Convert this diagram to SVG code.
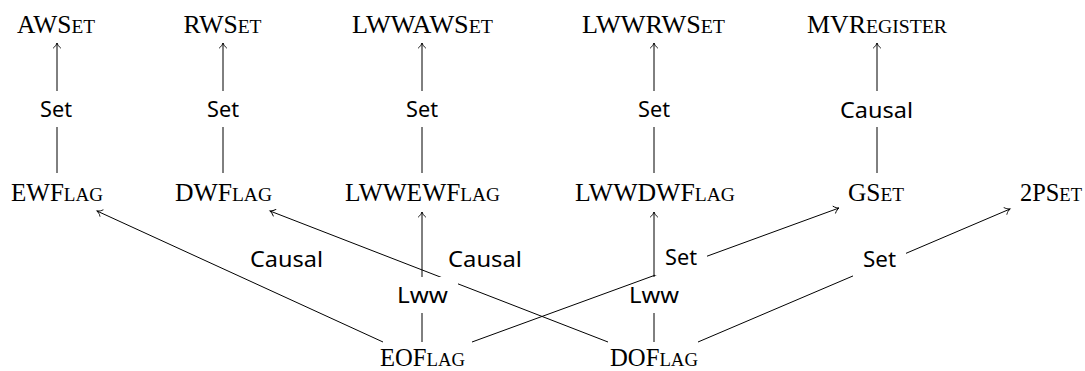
<svg xmlns="http://www.w3.org/2000/svg" width="1085" height="371" viewBox="0 0 1085 371">
<style>
.n{font-family:"Liberation Serif","DejaVu Serif",serif;font-size:25px;font-variant:small-caps;text-anchor:middle;fill:#000}
.n tspan{font-size:27.5px}
.l{font-family:"Noto Sans","Open Sans",sans-serif;font-size:21px;text-anchor:middle;fill:#000}
.e{stroke:#000;stroke-width:1;fill:none;marker-end:url(#to)}
.bg{fill:#fff;stroke:none}
</style>
<defs>
<marker id="to" markerUnits="userSpaceOnUse" markerWidth="12" markerHeight="12" viewBox="-7 -6 8 12" refX="0" refY="0" orient="auto">
<path d="M-5,-3.6 C-3.5,-1.6 -1.2,-0.4 0,0 C-1.2,0.4 -3.5,1.6 -5,3.6" fill="none" stroke="#000" stroke-width="0.9" stroke-linecap="round"/>
</marker>
</defs>
<g id="nodes">
<g id="AWSet"><text class="n" x="56" y="33" textLength="78" lengthAdjust="spacingAndGlyphs">AWS<tspan>et</tspan></text></g>
<g id="RWSet"><text class="n" x="222.5" y="33" textLength="78" lengthAdjust="spacingAndGlyphs">RWS<tspan>et</tspan></text></g>
<g id="LWWAWSet"><text class="n" x="422.5" y="33" textLength="141" lengthAdjust="spacingAndGlyphs">LWWAWS<tspan>et</tspan></text></g>
<g id="LWWRWSet"><text class="n" x="653.5" y="33" textLength="143" lengthAdjust="spacingAndGlyphs">LWWRWS<tspan>et</tspan></text></g>
<g id="MVRegister"><text class="n" x="877" y="33" textLength="140" lengthAdjust="spacingAndGlyphs">MVR<tspan>egister</tspan></text></g>
<g id="EWFlag"><text class="n" x="57" y="201" textLength="92" lengthAdjust="spacingAndGlyphs">EWF<tspan>lag</tspan></text></g>
<g id="DWFlag"><text class="n" x="223.5" y="201" textLength="97" lengthAdjust="spacingAndGlyphs">DWF<tspan>lag</tspan></text></g>
<g id="LWWEWFlag"><text class="n" x="422.5" y="201" textLength="155" lengthAdjust="spacingAndGlyphs">LWWEWF<tspan>lag</tspan></text></g>
<g id="LWWDWFlag"><text class="n" x="655" y="201" textLength="160" lengthAdjust="spacingAndGlyphs">LWWDWF<tspan>lag</tspan></text></g>
<g id="GSet"><text class="n" x="876" y="201" textLength="56" lengthAdjust="spacingAndGlyphs">GS<tspan>et</tspan></text></g>
<g id="TwoPSet"><text class="n" x="1051" y="201" textLength="62" lengthAdjust="spacingAndGlyphs">2PS<tspan>et</tspan></text></g>
<g id="EOFlag"><text class="n" x="422.5" y="365.5" textLength="85" lengthAdjust="spacingAndGlyphs">EOF<tspan>lag</tspan></text></g>
<g id="DOFlag"><text class="n" x="654" y="365.5" textLength="88" lengthAdjust="spacingAndGlyphs">DOF<tspan>lag</tspan></text></g>
</g>
<g id="connectors">
<g id="e-ew-aw"><line class="e" x1="57" y1="173" x2="57" y2="43"/><rect class="bg" x="30" y="91" width="52" height="36"/><text class="l" x="56" y="117" textLength="32" lengthAdjust="spacingAndGlyphs">Set</text></g>
<g id="e-dw-rw"><line class="e" x1="223" y1="173" x2="223" y2="43"/><rect class="bg" x="197" y="91" width="52" height="36"/><text class="l" x="223" y="117" textLength="32" lengthAdjust="spacingAndGlyphs">Set</text></g>
<g id="e-lwwew-lwwaw"><line class="e" x1="422" y1="173" x2="422" y2="43"/><rect class="bg" x="396" y="91" width="52" height="36"/><text class="l" x="422" y="117" textLength="32" lengthAdjust="spacingAndGlyphs">Set</text></g>
<g id="e-lwwdw-lwwrw"><line class="e" x1="654" y1="173" x2="654" y2="43"/><rect class="bg" x="628" y="91" width="52" height="36"/><text class="l" x="654" y="117" textLength="32" lengthAdjust="spacingAndGlyphs">Set</text></g>
<g id="e-gset-mv"><line class="e" x1="877" y1="173" x2="877" y2="43"/><rect class="bg" x="830" y="91" width="94" height="36"/><text class="l" x="876.5" y="118" textLength="73" lengthAdjust="spacingAndGlyphs">Causal</text></g>
<g id="e-do-dw"><line class="e" x1="608" y1="342" x2="270" y2="211"/><text class="l" x="485" y="267" textLength="74" lengthAdjust="spacingAndGlyphs">Causal</text></g>
<g id="e-eo-ew"><line class="e" x1="383" y1="342" x2="97" y2="211"/><text class="l" x="286.5" y="267" textLength="73" lengthAdjust="spacingAndGlyphs">Causal</text></g>
<g id="e-eo-lwwew"><line class="e" x1="422" y1="342" x2="422" y2="212"/><rect class="bg" x="386" y="277" width="72" height="36"/><text class="l" x="422.5" y="303" textLength="51" lengthAdjust="spacingAndGlyphs">Lww</text></g>
<g id="e-do-lwwdw"><line class="e" x1="654" y1="342" x2="654" y2="212"/><rect class="bg" x="619" y="277" width="70" height="36"/><text class="l" x="654" y="303" textLength="50" lengthAdjust="spacingAndGlyphs">Lww</text></g>
<g id="e-eo-gset"><line class="e" x1="472" y1="342" x2="839" y2="208"/><rect class="bg" x="655" y="239" width="52" height="36"/><text class="l" x="681" y="265" textLength="32" lengthAdjust="spacingAndGlyphs">Set</text></g>
<g id="e-do-2pset"><line class="e" x1="698" y1="342" x2="1010" y2="209"/><rect class="bg" x="853" y="241" width="53" height="36"/><text class="l" x="879.5" y="267" textLength="33" lengthAdjust="spacingAndGlyphs">Set</text></g>
</g>
</svg>
